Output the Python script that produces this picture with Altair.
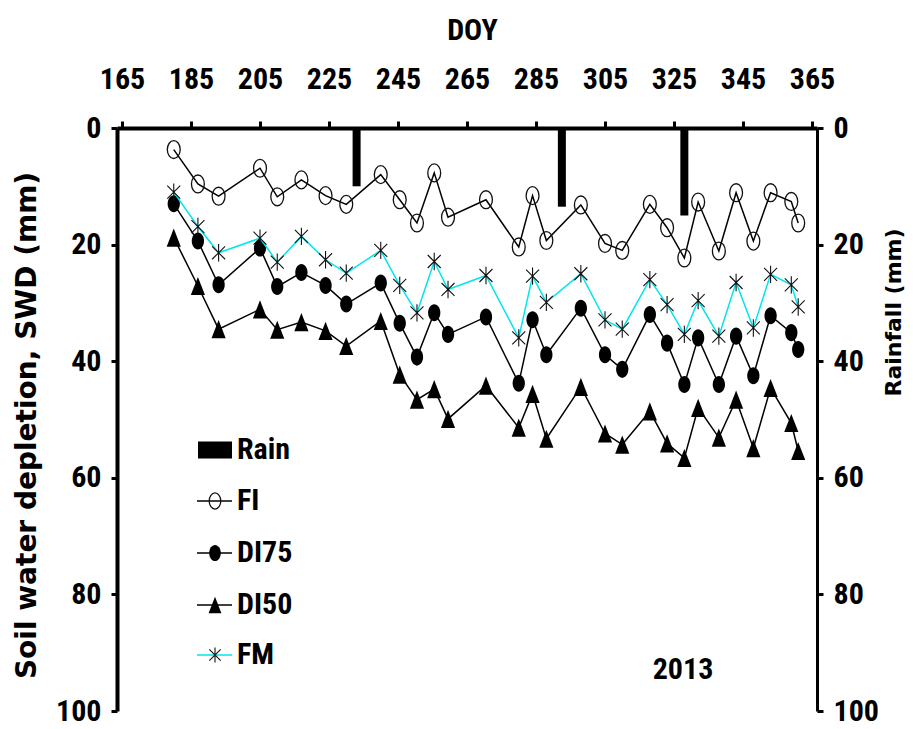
import altair as alt
import pandas as pd

# ---- data ----
doy = [180, 187, 193, 205, 210, 217, 224, 230, 240, 245.5, 250.5, 255.5, 259.5, 270.5,
       280, 284, 288, 298, 305, 310, 318, 323, 328, 332, 338, 343, 348, 353, 359, 361]
fi = [3.7, 9.6, 11.7, 6.9, 11.8, 8.9, 11.6, 13.1, 8.0, 12.3, 16.3, 7.7, 15.3, 12.3,
      20.4, 11.6, 19.3, 13.2, 19.8, 21.0, 13.1, 17.1, 22.3, 12.7, 21.1, 11.1, 19.4, 11.1, 12.6, 16.3]
di75 = [13.0, 19.4, 26.9, 20.6, 27.2, 24.8, 27.0, 30.2, 26.6, 33.5, 39.3, 31.7, 35.4, 32.4,
        43.8, 32.9, 38.9, 30.9, 38.9, 41.4, 32.0, 36.9, 44.0, 36.0, 44.0, 35.7, 42.5, 32.2, 35.1, 38.0]
di50 = [18.8, 27.1, 34.5, 31.1, 34.6, 33.3, 34.8, 37.4, 33.1, 42.3, 46.6, 44.8, 49.9, 44.2,
        51.4, 45.6, 53.3, 44.4, 52.4, 54.3, 48.6, 54.1, 56.6, 48.0, 53.1, 46.6, 54.9, 44.6, 50.6, 55.4]
fm = [11.0, 16.9, 21.4, 18.9, 23.0, 18.6, 22.6, 24.9, 21.0, 27.0, 31.7, 22.9, 27.7, 25.3,
      36.0, 25.4, 29.9, 25.0, 32.9, 34.5, 26.0, 30.3, 35.4, 29.6, 35.7, 26.5, 34.3, 25.1, 26.9, 30.7]
rain_doy = [233, 292.5, 328]
rain_mm = [10, 13.5, 15]

x_ticks = [165, 185, 205, 225, 245, 265, 285, 305, 325, 345, 365]
y_ticks = [0, 20, 40, 60, 80, 100]
legend_labels = ["Rain", "FI", "DI75", "DI50", "FM"]
year_label = "2013"

df = pd.DataFrame({"DOY": doy, "FI": fi, "DI75": di75, "DI50": di50, "FM": fm})
rain_df = pd.DataFrame({"DOY": rain_doy, "Rain": rain_mm})
dummy = pd.DataFrame({"k": [0]})

NARROW = "Liberation Sans Narrow, Arial Narrow, Roboto Condensed, DejaVu Sans Condensed, sans-serif"
WIDE = "DejaVu Sans, Verdana, sans-serif"
CYAN = "#00E5EE"

ELLIPSE = "M0.72,0A0.72,1 0 1 1 -0.72,0A0.72,1 0 1 1 0.72,0Z"
TRI = "M0,-1L0.78,1L-0.78,1Z"
STAR = "M0,-1L0,1M-0.75,-0.75L0.75,0.75M-0.75,0.75L0.75,-0.75"

xscale = alt.Scale(domain=[165, 365], nice=False, zero=False)
xaxis = alt.Axis(orient="top", values=x_ticks, title="DOY", grid=False,
                 labelFont=NARROW, labelFontSize=30, labelFontWeight="bold", labelColor="black",
                 labelPadding=27, labelFlush=False, labelOverlap=False,
                 titleFont=NARROW, titleFontSize=30, titleFontWeight="bold", titleColor="black",
                 titleX=355, titleY=-98, titleBaseline="middle", titleAlign="center",
                 domainColor="black", domainWidth=4, tickColor="black", tickWidth=3, tickSize=7)
x = alt.X("DOY:Q", scale=xscale, axis=xaxis)

yscale = alt.Scale(domain=[0, 100], reverse=True, nice=False, zero=False)
yaxis_left = alt.Axis(orient="left", values=y_ticks, title="Soil water depletion, SWD (mm)", grid=False,
                      labelFont=NARROW, labelFontSize=30, labelFontWeight="bold", labelColor="black",
                      labelPadding=10, labelFlush=False, labelOverlap=False,
                      titleFont=WIDE, titleFontSize=28, titleFontWeight="bold", titleColor="black",
                      titleX=-90, titleY=297, titleAngle=270, titleBaseline="middle", titleAlign="center",
                      domainColor="black", domainWidth=4, tickColor="black", tickWidth=3, tickSize=6)
yaxis_right = alt.Axis(orient="right", values=y_ticks, title="Rainfall (mm)", grid=False,
                       labelFont=NARROW, labelFontSize=30, labelFontWeight="bold", labelColor="black",
                       labelPadding=10, labelFlush=False, labelOverlap=False,
                       titleFont=WIDE, titleFontSize=22, titleFontWeight="bold", titleColor="black",
                       titleX=76, titleY=184, titleAngle=270, titleBaseline="middle", titleAlign="center",
                       domainColor="black", domainWidth=3, tickColor="black", tickWidth=3, tickSize=6)

base = alt.Chart(df)


def series(col, line_color, shape, filled, size, sw=1.3):
    y = alt.Y(f"{col}:Q", scale=yscale, axis=yaxis_left)
    line = base.mark_line(color=line_color, strokeWidth=1.5).encode(x=x, y=y)
    if filled:
        pts = base.mark_point(shape=shape, filled=True, size=size, color="black", opacity=1).encode(x=x, y=y)
    else:
        pts = base.mark_point(shape=shape, filled=False, size=size, color="#111111",
                              strokeWidth=sw, opacity=1).encode(x=x, y=y)
    return [line, pts]


layers = []
layers += series("FI", "black", ELLIPSE, False, 320)
layers += series("DI75", "black", ELLIPSE, True, 290)
layers += series("DI50", "black", TRI, True, 330)
layers += series("FM", CYAN, STAR, False, 300, sw=1.1)
inner = alt.layer(*layers)

rain = alt.Chart(rain_df).mark_bar(color="black", size=8).encode(
    x=x, y=alt.Y("Rain:Q", scale=yscale, axis=yaxis_right), y2=alt.datum(0))

# ---- manual legend ----
leg = alt.Chart(dummy)
LX0, LX1, LXS, LXT = 80, 115, 98, 120
rows = [322, 373, 425, 477, 527]
legend_layers = []
legend_layers.append(leg.mark_rect(color="black").encode(
    x=alt.value(LX0 + 1), x2=alt.value(LX1), y=alt.value(rows[0] - 8.5), y2=alt.value(rows[0] + 8.5)))
for i, (col, lc) in enumerate([("FI", "black"), ("DI75", "black"), ("DI50", "black"), ("FM", CYAN)], start=1):
    legend_layers.append(leg.mark_rule(color=lc, strokeWidth=1.5).encode(
        x=alt.value(LX0), x2=alt.value(LX1), y=alt.value(rows[i])))
legend_layers.append(leg.mark_point(shape=ELLIPSE, filled=False, size=260, color="#111111", strokeWidth=1.3, opacity=1)
                     .encode(x=alt.value(LXS), y=alt.value(rows[1])))
legend_layers.append(leg.mark_point(shape=ELLIPSE, filled=True, size=260, color="black", opacity=1)
                     .encode(x=alt.value(LXS), y=alt.value(rows[2])))
legend_layers.append(leg.mark_point(shape=TRI, filled=True, size=270, color="black", opacity=1)
                     .encode(x=alt.value(LXS), y=alt.value(rows[3])))
legend_layers.append(leg.mark_point(shape=STAR, filled=False, size=230, color="#111111", strokeWidth=1.1, opacity=1)
                     .encode(x=alt.value(LXS), y=alt.value(rows[4])))
for lab, ry in zip(legend_labels, rows):
    legend_layers.append(leg.mark_text(text=lab, font=NARROW, fontSize=30, fontWeight="bold", color="black",
                                       align="left", baseline="middle")
                         .encode(x=alt.value(LXT), y=alt.value(ry)))
legend_layers.append(leg.mark_text(text=year_label, font=NARROW, fontSize=30, fontWeight="bold", color="black",
                                   align="center", baseline="middle")
                     .encode(x=alt.value(566), y=alt.value(542)))

chart = alt.layer(inner, rain, *legend_layers).resolve_scale(y="independent").properties(
    width=700, height=583,
    padding={"left": 117, "top": 128, "right": 96, "bottom": 18},
    autosize=alt.AutoSizeParams(type="none"),
    background="white",
).configure_view(stroke=None)

chart.save("out.html", embed_options={"renderer": "svg", "actions": False})
